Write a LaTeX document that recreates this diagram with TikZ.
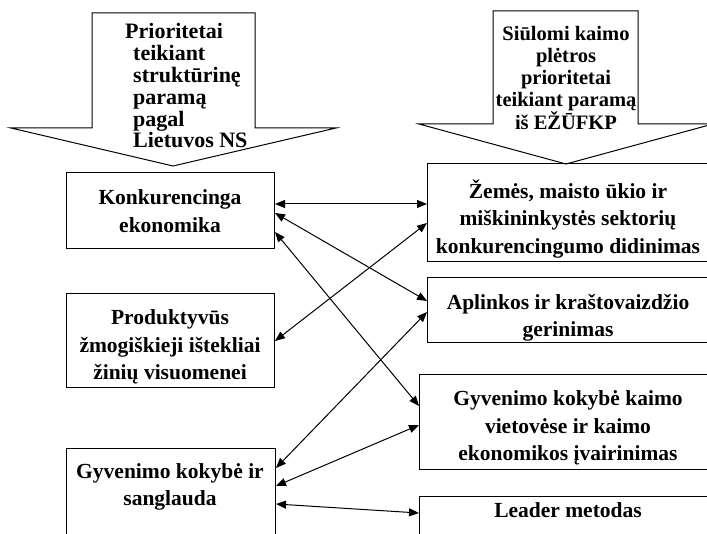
\documentclass[tikz,border=0pt]{standalone}
\usepackage{fontspec}
\setmainfont{Liberation Serif}
\usetikzlibrary{arrows.meta,calc}
\begin{document}
\begin{tikzpicture}[x=1pt,y=-1pt,
  box/.style={draw, line width=1pt, rectangle, inner sep=0pt, anchor=north west},
  txt/.style={font=\fontsize{21.5}{27.5}\selectfont\bfseries, align=center, inner sep=0pt},
  head/.style={font=\fontsize{20.5}{21.8}\selectfont\bfseries, inner sep=0pt},
  headl/.style={font=\fontsize{22}{21.8}\selectfont\bfseries, inner sep=0pt},
  link/.style={line width=1pt, {Triangle[length=10pt,width=8pt]}-{Triangle[length=10pt,width=8pt]}},
  bigarrow/.style={draw, line width=1pt, fill=white, line join=miter}]
\useasboundingbox (0,0) rectangle (707,534);
\clip (0,0) rectangle (707,534);

% big block arrows
\draw[bigarrow] (92,13) -- (255,13) -- (255,128) -- (336,128) -- (173,166) -- (11,128) -- (92,128) -- cycle;
\draw[bigarrow] (493,11) -- (638,11) -- (638,124) -- (713,124) -- (566,164) -- (419,124) -- (493,124) -- cycle;
\node[headl, align=left, anchor=west] (h1) at (133,86) {\hspace*{-8pt}Prioritetai\\teikiant\\struktūrinę\\paramą\\pagal\\Lietuvos NS};
\node[head, align=center] (h2) at (566,78) {Siūlomi kaimo\\plėtros\\prioritetai\\teikiant paramą\\iš EŽŪFKP};

% boxes
\node[box, minimum width=208pt, minimum height=76pt] (k1) at (66,172) {};
\node[box, minimum width=208pt, minimum height=94pt] (k2) at (66,293) {};
\node[box, minimum width=209pt, minimum height=120pt] (k3) at (66,448) {};
\node[box, minimum width=300pt, minimum height=98pt] (r1) at (427,163) {};
\node[box, minimum width=300pt, minimum height=65pt] (r2) at (427,277) {};
\node[box, minimum width=300pt, minimum height=95pt] (r3) at (419,374) {};
\node[box, minimum width=300pt, minimum height=60pt] (r4) at (419,496) {};

% texts
\node[txt] (t1) at (170,211) {Konkurencinga\\ekonomika};
\node[txt] (t2) at (170,347) {Produktyvūs\\žmogiškieji ištekliai\\žinių visuomenei};
\node[txt] (t3) at (170,487) {Gyvenimo kokybė ir\\sanglauda};
\node[txt] (t4) at (568,219) {Žemės, maisto ūkio ir\\miškininkystės sektorių\\konkurencingumo didinimas};
\node[txt] (t5) at (568,318) {Aplinkos ir kraštovaizdžio\\gerinimas};
\node[txt] (t6) at (568,428) {Gyvenimo kokybė kaimo\\vietovėse ir kaimo\\ekonomikos įvairinimas};
\node[txt] (t7) at (568,510) {Leader metodas};

% connectors
\draw[link] ($(k1.north east)+(0,32)$) -- ($(r1.north west)+(0,41)$);
\draw[link] ($(k1.north east)+(0,41)$) -- ($(r2.north west)+(0,24)$);
\draw[link] ($(k1.north east)+(0,60)$) -- ($(r3.north west)+(0,32)$);
\draw[link] ($(k2.north east)+(0,48)$) -- ($(r1.north west)+(0,60)$);
\draw[link] ($(r2.north west)+(0,35)$) -- ($(k3.north east)+(0,20)$);
\draw[link] ($(k3.north east)+(0,38)$) -- ($(r3.north west)+(0,51)$);
\draw[link] ($(k3.north east)+(0,56)$) -- ($(r4.north west)+(0,17)$);
\end{tikzpicture}
\end{document}
